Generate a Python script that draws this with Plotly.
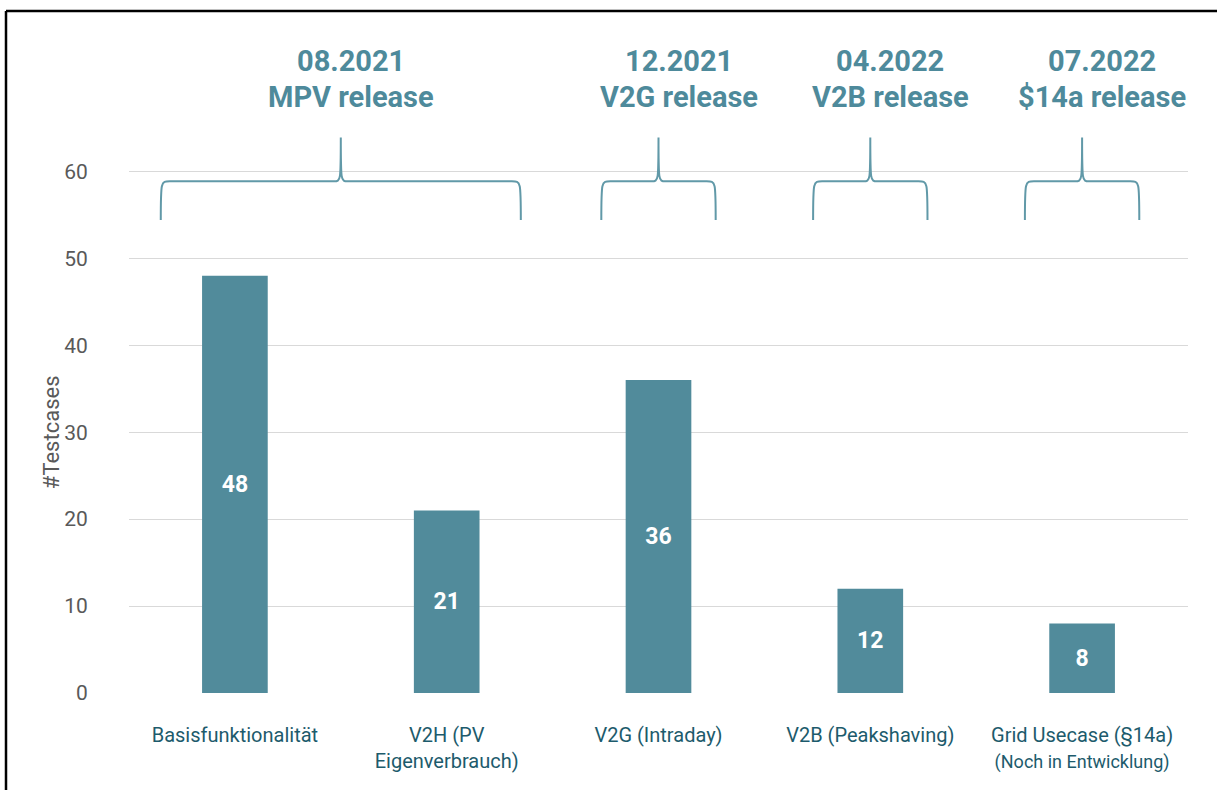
import plotly.graph_objects as go

# Testcases per use case
categories = [
    "Basisfunktionalität",
    "V2H (PV<br>Eigenverbrauch)",
    "V2G (Intraday)",
    "V2B (Peakshaving)",
    "Grid Usecase (§14a)<br><span style='font-size:18px'>(Noch in Entwicklung)</span>",
]
testcases = [48, 21, 36, 12, 8]

# Releases grouping the use cases
release_dates = ["08.2021", "12.2021", "04.2022", "07.2022"]
release_names = ["MPV release", "V2G release", "V2B release", "$14a release"]
release_first = [0, 2, 3, 4]
release_last = [1, 2, 3, 4]

y_ticks = [0, 10, 20, 30, 40, 50, 60]

BAR = "#518b9b"
TITLE = "#4e8a9b"
BRACE = "#6199a8"
XLAB = "#1d5b6c"
GREY = "#595959"
FONT = "Roboto, sans-serif"

W, H = 1217, 790
ML, MR, MT, MB = 129, 29, 67, 97
Y_MAX = 72
pw, ph = W - ML - MR, H - MT - MB
px_x = pw / len(categories)   # pixels per category
px_y = ph / Y_MAX             # pixels per unit


def paper_y(py):
    return (H - MB - py) / ph


def paper_x(px):
    return (px - ML) / pw


x_idx = list(range(len(categories)))

fig = go.Figure()
fig.add_trace(go.Bar(
    x=x_idx, y=testcases, width=0.31,
    marker=dict(color=BAR, line=dict(width=0)),
    text=[str(v) for v in testcases],
    textposition="inside", insidetextanchor="middle",
    textfont=dict(family=FONT, size=23, color="white", weight="bold"),
    hoverinfo="skip",
))


def brace_path(x0, x1, xt, y_base, y_bar, y_tip):
    rx = 9 / px_x
    cx = 7 / px_x
    return (
        f"M {x0},{y_base} "
        f"C {x0},{y_bar} {x0},{y_bar} {x0 + rx},{y_bar} "
        f"L {xt - cx},{y_bar} "
        f"C {xt},{y_bar} {xt},{y_bar} {xt},{y_tip} "
        f"C {xt},{y_bar} {xt},{y_bar} {xt + cx},{y_bar} "
        f"L {x1 - rx},{y_bar} "
        f"C {x1},{y_bar} {x1},{y_bar} {x1},{y_base}"
    )


shapes = []
annotations = []
for d, n, a, b in zip(release_dates, release_names, release_first, release_last):
    pad = 0.35 if b > a else 0.27
    x0, x1 = a - pad, b + pad
    xt = (a + b) / 2
    shapes.append(dict(
        type="path", xref="x", yref="y",
        path=brace_path(x0, x1, xt, 54.4, 58.85, 63.9),
        line=dict(color=BRACE, width=2), layer="above",
    ))
    shift = 10 if b > a else 20
    annotations.append(dict(
        x=xt, y=paper_y(61), xref="x", yref="paper", text=f"<b>{d}</b>",
        showarrow=False, xshift=shift, yanchor="middle",
        font=dict(family=FONT, size=29, color=TITLE),
    ))
    annotations.append(dict(
        x=xt, y=paper_y(97), xref="x", yref="paper", text=f"<b>{n}</b>",
        showarrow=False, xshift=shift, yanchor="middle",
        font=dict(family=FONT, size=29, color=TITLE),
    ))

# y axis title, centred on the tick range
annotations.append(dict(
    x=paper_x(51), xref="paper", xanchor="center", y=30, yref="y", yanchor="middle",
    text="#Testcases", textangle=-90, showarrow=False,
    font=dict(family=FONT, size=22, color=GREY),
))

# frame lines on the left and top
fx = paper_x(6)
fy_top = paper_y(11)
fy_bot = paper_y(H + 5)
shapes.append(dict(type="line", xref="paper", yref="paper", x0=fx, x1=fx,
                   y0=fy_bot, y1=fy_top, line=dict(color="black", width=2.5)))
shapes.append(dict(type="line", xref="paper", yref="paper", x0=fx, x1=paper_x(W + 5),
                   y0=fy_top, y1=fy_top, line=dict(color="black", width=2.5)))

fig.update_layout(
    width=W, height=H,
    margin=dict(l=ML, r=MR, t=MT, b=MB, autoexpand=False),
    paper_bgcolor="white", plot_bgcolor="white",
    showlegend=False,
    shapes=shapes, annotations=annotations,
    xaxis=dict(
        range=[-0.5, len(categories) - 0.5],
        tickvals=x_idx, ticktext=categories, tickangle=0,
        showgrid=False, zeroline=False, showline=False,
        ticks="outside", ticklen=24, tickcolor="rgba(0,0,0,0)",
        tickfont=dict(family=FONT, size=20, color=XLAB),
        automargin=False, fixedrange=True,
    ),
    yaxis=dict(
        range=[0, Y_MAX], tickvals=y_ticks,
        showgrid=True, gridcolor="#d9d9d9", gridwidth=1,
        zeroline=False, showline=False,
        ticks="outside", ticklen=36, tickcolor="rgba(0,0,0,0)",
        tickfont=dict(family=FONT, size=21, color=GREY),
        automargin=False, fixedrange=True,
    ),
)

fig.write_html("out.html", config={"displayModeBar": False})
